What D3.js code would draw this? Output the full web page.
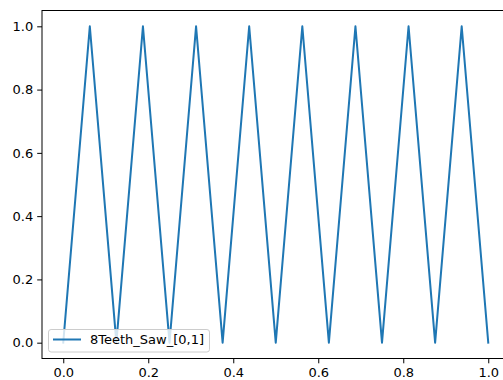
<!DOCTYPE html>
<html>
<head>
<meta charset="utf-8">
<script src="https://cdn.jsdelivr.net/npm/d3@7"></script>
<style>
  html, body { margin: 0; padding: 0; background: #ffffff; }
  svg { display: block; }
  text { font-family: "DejaVu Sans", sans-serif; }
</style>
</head>
<body>
<svg id="chart" width="503" height="380"></svg>
<script>
// Sawtooth with 8 teeth over [0, 1]
const sawX = [0, 0.0625, 0.125, 0.1875, 0.25, 0.3125, 0.375, 0.4375, 0.5,
              0.5625, 0.625, 0.6875, 0.75, 0.8125, 0.875, 0.9375, 1];
const sawY = [0, 1, 0, 1, 0, 1, 0, 1, 0, 1, 0, 1, 0, 1, 0, 1, 0];
const xTicks = [0.0, 0.2, 0.4, 0.6, 0.8, 1.0];
const yTicks = [0.0, 0.2, 0.4, 0.6, 0.8, 1.0];
const seriesName = "8Teeth_Saw_[0,1]";

const svg = d3.select("#chart");
const plotL = 42, plotR = 509.5, plotT = 10.5, plotB = 358.5;
const fontSize = 13;
const lineColor = "#1f77b4";

const x = d3.scaleLinear().domain([-0.05, 1.05]).range([plotL, plotR]);
const y = d3.scaleLinear().domain([-0.05, 1.05]).range([plotB, plotT]);

// data line
const line = d3.line().x((d, i) => x(sawX[i])).y(d => y(d));
svg.append("path")
  .datum(sawY)
  .attr("d", line)
  .attr("fill", "none")
  .attr("stroke", lineColor)
  .attr("stroke-width", 2)
  .attr("stroke-linejoin", "round")
  .attr("stroke-linecap", "square");

// axes
const xAxis = d3.axisBottom(x).tickValues(xTicks).tickFormat(d3.format(".1f"))
  .tickSize(4.8).tickPadding(4);
const yAxis = d3.axisLeft(y).tickValues(yTicks).tickFormat(d3.format(".1f"))
  .tickSize(4.8).tickPadding(4);

const gx = svg.append("g").attr("transform", `translate(0,${plotB})`).call(xAxis);
const gy = svg.append("g").attr("transform", `translate(${plotL},0)`).call(yAxis);
[gx, gy].forEach(g => {
  g.select(".domain").remove();
  g.selectAll("line").attr("stroke", "#000").attr("stroke-width", 1);
  g.selectAll("text").attr("font-size", fontSize).attr("fill", "#000")
    .attr("font-family", "DejaVu Sans, sans-serif");
});

// spines
svg.append("rect")
  .attr("x", plotL).attr("y", plotT)
  .attr("width", plotR - plotL).attr("height", plotB - plotT)
  .attr("fill", "none").attr("stroke", "#000").attr("stroke-width", 1);

// legend
const lg = svg.append("g").attr("transform", "translate(48.5,329.5)");
lg.append("rect")
  .attr("width", 161).attr("height", 22.5).attr("rx", 2.6)
  .attr("fill", "#ffffff").attr("fill-opacity", 0.8)
  .attr("stroke", "#cccccc").attr("stroke-width", 1);
lg.append("line")
  .attr("x1", 4.5).attr("x2", 32.5).attr("y1", 10).attr("y2", 10)
  .attr("stroke", lineColor).attr("stroke-width", 2);
lg.append("text")
  .attr("x", 41.5).attr("y", 10).attr("dy", "0.35em")
  .attr("font-size", fontSize).attr("fill", "#000")
  .text(seriesName);
</script>
</body>
</html>
